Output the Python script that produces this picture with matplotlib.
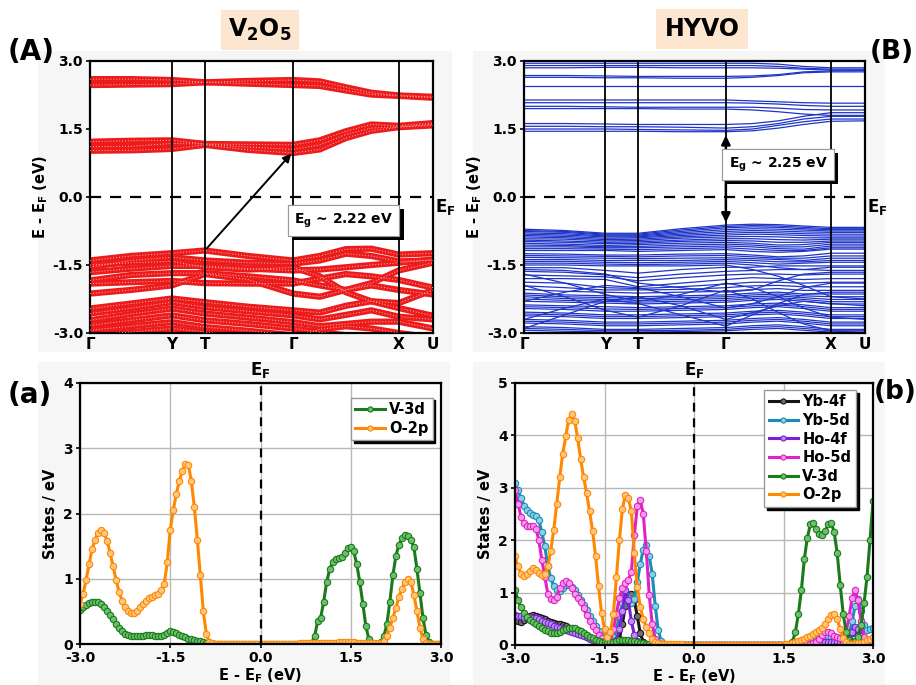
import numpy as np
import matplotlib
matplotlib.use('Agg')
import matplotlib.pyplot as plt
from matplotlib.patches import Rectangle
import matplotlib.patheffects as pe

plt.rcParams['font.family'] = ['DejaVu Sans']
plt.rcParams['font.weight'] = 'bold'
plt.rcParams['axes.labelweight'] = 'bold'
plt.rcParams['mathtext.default'] = 'bf'

# ---------------- band structure data ----------------
kpath = [0.0, 0.12, 0.239, 0.335, 0.46, 0.592, 0.67, 0.746, 0.82, 0.90, 1.0]
ktick_pos = [0.0, 0.239, 0.335, 0.592, 0.90, 1.0]
ktick_lab = ['Γ', 'Y', 'T', 'Γ', 'X', 'U']

v2o5_bands = [
    [2.60, 2.60, 2.58, 2.53, 2.56, 2.58, 2.55, 2.42, 2.30, 2.24, 2.21],
    [2.47, 2.48, 2.49, 2.53, 2.50, 2.47, 2.45, 2.35, 2.26, 2.23, 2.19],
    [1.22, 1.24, 1.25, 1.17, 1.16, 1.15, 1.25, 1.45, 1.60, 1.57, 1.63],
    [1.11, 1.12, 1.18, 1.17, 1.10, 1.05, 1.15, 1.38, 1.52, 1.55, 1.60],
    [1.02, 1.03, 1.06, 1.15, 1.04, 0.97, 1.05, 1.30, 1.46, 1.54, 1.58],
    [-1.40, -1.30, -1.24, -1.18, -1.30, -1.40, -1.30, -1.15, -1.14, -1.27, -1.24],
    [-1.55, -1.40, -1.33, -1.40, -1.45, -1.47, -1.40, -1.25, -1.30, -1.42, -1.40],
    [-1.66, -1.58, -1.52, -1.52, -1.58, -1.62, -1.60, -1.55, -1.50, -1.45, -1.38],
    [-1.84, -1.72, -1.68, -1.68, -1.75, -1.84, -1.95, -2.05, -1.90, -1.62, -1.45],
    [-1.91, -1.88, -1.85, -1.90, -1.91, -1.91, -1.80, -1.70, -1.75, -1.83, -2.00],
    [-2.13, -2.05, -1.95, -1.70, -1.82, -2.13, -2.20, -2.05, -1.95, -2.05, -2.15],
    [-1.50, -1.45, -1.42, -1.55, -1.60, -1.55, -1.75, -2.10, -2.30, -2.34, -2.05],
    [-2.46, -2.35, -2.24, -2.32, -2.42, -2.50, -2.55, -2.40, -2.30, -2.45, -2.62],
    [-2.57, -2.45, -2.32, -2.43, -2.52, -2.61, -2.70, -2.60, -2.50, -2.64, -2.70],
    [-2.72, -2.58, -2.46, -2.57, -2.66, -2.76, -2.85, -2.80, -2.75, -2.75, -2.90],
    [-2.83, -2.72, -2.61, -2.72, -2.80, -2.90, -2.98, -3.05, -3.10, -3.10, -3.10],
    [-2.94, -2.85, -2.76, -2.87, -2.95, -3.05, -3.10, -3.10, -3.10, -3.10, -3.10],
    [-3.05, -2.98, -2.90, -2.98, -3.10, -3.10, -2.92, -2.85, -2.90, -3.00, -3.10],
]

hyvo_bands = [
    [2.95, 2.95, 2.95, 2.95, 2.95, 2.95, 2.95, 2.93, 2.88, 2.85, 2.85],
    [2.90, 2.90, 2.90, 2.90, 2.90, 2.90, 2.90, 2.88, 2.84, 2.82, 2.82],
    [2.85, 2.85, 2.86, 2.86, 2.85, 2.85, 2.85, 2.84, 2.82, 2.80, 2.80],
    [2.68, 2.68, 2.67, 2.66, 2.66, 2.66, 2.67, 2.70, 2.76, 2.78, 2.79],
    [2.64, 2.64, 2.63, 2.63, 2.62, 2.62, 2.64, 2.68, 2.74, 2.76, 2.76],
    [2.45, 2.45, 2.45, 2.45, 2.45, 2.45, 2.45, 2.45, 2.45, 2.45, 2.45],
    [2.14, 2.14, 2.14, 2.14, 2.14, 2.14, 2.12, 2.10, 2.08, 2.07, 2.07],
    [2.08, 2.08, 2.08, 2.08, 2.08, 2.08, 2.07, 2.05, 2.02, 2.00, 2.00],
    [2.00, 2.00, 1.99, 1.98, 1.98, 1.98, 1.98, 1.96, 1.93, 1.92, 1.92],
    [1.95, 1.95, 1.95, 1.95, 1.94, 1.94, 1.92, 1.88, 1.83, 1.80, 1.80],
    [1.62, 1.62, 1.61, 1.60, 1.60, 1.60, 1.62, 1.68, 1.78, 1.86, 1.86],
    [1.56, 1.56, 1.55, 1.55, 1.54, 1.52, 1.55, 1.62, 1.72, 1.78, 1.78],
    [1.50, 1.50, 1.50, 1.49, 1.48, 1.47, 1.50, 1.58, 1.66, 1.72, 1.72],
    [1.45, 1.45, 1.45, 1.45, 1.44, 1.44, 1.46, 1.52, 1.60, 1.67, 1.68],
    [-0.71, -0.74, -0.80, -0.80, -0.70, -0.62, -0.60, -0.61, -0.64, -0.67, -0.67],
    [-0.74, -0.76, -0.82, -0.82, -0.73, -0.65, -0.63, -0.64, -0.67, -0.70, -0.70],
    [-0.76, -0.78, -0.84, -0.84, -0.76, -0.68, -0.66, -0.67, -0.70, -0.72, -0.72],
    [-0.79, -0.81, -0.86, -0.86, -0.79, -0.72, -0.70, -0.71, -0.73, -0.75, -0.75],
    [-0.82, -0.84, -0.88, -0.88, -0.82, -0.76, -0.74, -0.75, -0.77, -0.78, -0.78],
    [-0.85, -0.87, -0.91, -0.90, -0.85, -0.80, -0.78, -0.79, -0.81, -0.82, -0.82],
    [-0.88, -0.90, -0.94, -0.93, -0.88, -0.84, -0.82, -0.83, -0.85, -0.86, -0.86],
    [-0.92, -0.93, -0.97, -0.96, -0.91, -0.88, -0.87, -0.88, -0.90, -0.90, -0.90],
    [-0.95, -0.97, -1.00, -0.99, -0.95, -0.92, -0.92, -0.94, -0.95, -0.93, -0.93],
    [-0.98, -1.00, -1.03, -1.02, -0.98, -0.96, -0.97, -1.00, -1.00, -0.97, -0.97],
    [-1.02, -1.04, -1.07, -1.05, -1.02, -1.00, -1.02, -1.06, -1.05, -1.00, -1.00],
    [-1.06, -1.07, -1.10, -1.09, -1.06, -1.04, -1.06, -1.10, -1.10, -1.04, -1.04],
    [-1.10, -1.10, -1.12, -1.12, -1.10, -1.08, -1.10, -1.14, -1.15, -1.08, -1.08],
    [-1.14, -1.14, -1.15, -1.16, -1.14, -1.12, -1.15, -1.18, -1.18, -1.12, -1.12],
    [-1.18, -1.18, -1.18, -1.20, -1.18, -1.16, -1.20, -1.22, -1.20, -1.15, -1.15],
    [-1.25, -1.26, -1.28, -1.28, -1.26, -1.25, -1.28, -1.32, -1.30, -1.24, -1.24],
    [-1.29, -1.30, -1.31, -1.32, -1.30, -1.29, -1.32, -1.35, -1.35, -1.30, -1.30],
    [-1.33, -1.34, -1.35, -1.36, -1.35, -1.34, -1.36, -1.38, -1.40, -1.35, -1.35],
    [-1.38, -1.38, -1.40, -1.40, -1.40, -1.38, -1.40, -1.43, -1.43, -1.40, -1.40],
    [-1.42, -1.42, -1.44, -1.45, -1.44, -1.42, -1.45, -1.48, -1.46, -1.44, -1.44],
    [-1.46, -1.46, -1.48, -1.49, -1.48, -1.46, -1.50, -1.56, -1.60, -1.55, -1.55],
    [-1.50, -1.50, -1.52, -1.52, -1.52, -1.50, -1.60, -1.75, -1.95, -2.20, -2.25],
    [-1.56, -1.56, -1.62, -1.68, -1.60, -1.55, -1.55, -1.52, -1.52, -1.52, -1.52],
    [-1.64, -1.66, -1.72, -1.78, -1.70, -1.64, -1.62, -1.60, -1.60, -1.62, -1.62],
    [-1.72, -1.74, -1.76, -1.85, -1.78, -1.72, -1.70, -1.70, -1.72, -1.70, -1.70],
    [-1.80, -1.80, -1.82, -1.98, -1.90, -1.82, -1.78, -1.80, -1.82, -1.80, -1.80],
    [-1.88, -1.90, -2.00, -2.02, -1.98, -1.92, -1.88, -1.88, -1.90, -1.88, -1.88],
    [-1.96, -2.00, -2.05, -2.05, -2.04, -2.00, -1.96, -1.95, -1.98, -1.98, -1.98],
    [-2.04, -2.08, -2.10, -2.12, -2.10, -2.08, -2.04, -2.02, -2.06, -2.06, -2.06],
    [-2.12, -2.16, -2.18, -2.20, -2.18, -2.16, -2.12, -2.10, -2.14, -2.14, -2.14],
    [-2.16, -2.20, -2.22, -2.24, -2.22, -2.20, -2.16, -2.14, -2.18, -2.20, -2.20],
    [-2.20, -2.24, -2.26, -2.28, -2.26, -2.24, -2.20, -2.18, -2.22, -2.26, -2.26],
    [-2.25, -2.28, -2.30, -2.32, -2.30, -2.28, -2.24, -2.22, -2.26, -2.31, -2.31],
    [-2.30, -2.32, -2.34, -2.36, -2.34, -2.32, -2.28, -2.26, -2.30, -2.36, -2.36],
    [-2.38, -2.40, -2.42, -2.44, -2.42, -2.40, -2.36, -2.34, -2.38, -2.44, -2.44],
    [-2.42, -2.44, -2.47, -2.48, -2.46, -2.44, -2.40, -2.38, -2.42, -2.48, -2.48],
    [-2.46, -2.48, -2.52, -2.52, -2.50, -2.48, -2.44, -2.42, -2.46, -2.52, -2.52],
    [-2.54, -2.56, -2.60, -2.60, -2.58, -2.56, -2.52, -2.50, -2.54, -2.60, -2.60],
    [-2.58, -2.60, -2.64, -2.64, -2.62, -2.60, -2.56, -2.54, -2.58, -2.64, -2.64],
    [-2.62, -2.64, -2.68, -2.68, -2.66, -2.64, -2.60, -2.58, -2.62, -2.68, -2.68],
    [-2.70, -2.72, -2.76, -2.76, -2.74, -2.72, -2.68, -2.66, -2.70, -2.76, -2.76],
    [-2.74, -2.76, -2.80, -2.80, -2.78, -2.76, -2.72, -2.70, -2.74, -2.80, -2.80],
    [-2.78, -2.80, -2.84, -2.84, -2.82, -2.80, -2.76, -2.74, -2.78, -2.84, -2.84],
    [-2.86, -2.88, -2.92, -2.92, -2.90, -2.88, -2.84, -2.82, -2.86, -2.92, -2.92],
    [-2.90, -2.92, -2.95, -2.95, -2.94, -2.92, -2.88, -2.86, -2.90, -2.95, -2.95],
    [-2.94, -2.96, -2.98, -2.98, -2.97, -2.95, -2.92, -2.90, -2.94, -2.98, -2.98],
    [-2.90, -2.60, -2.30, -2.20, -2.40, -2.70, -2.55, -2.40, -2.30, -2.35, -2.40],
    [-1.95, -2.20, -2.50, -2.65, -2.40, -2.05, -2.25, -2.55, -2.80, -2.95, -3.00],
    [-1.60, -1.62, -1.70, -1.90, -2.00, -2.10, -2.05, -1.85, -1.70, -1.66, -1.66],
    [-2.70, -2.45, -2.25, -2.35, -2.60, -2.85, -2.60, -2.35, -2.15, -2.10, -2.10],
    [-1.70, -1.90, -2.15, -2.30, -2.15, -1.90, -2.00, -2.20, -2.45, -2.65, -2.70],
    [-2.30, -2.10, -1.95, -2.00, -2.20, -2.45, -2.35, -2.20, -2.00, -1.90, -1.90],
]

# ---------------- PDOS data (E - E_F grid, 0.05 eV step) ----------------
dos_e = np.linspace(-3.0, 3.0, 121)
Z20 = [0.0] * 20

v2o5_o2p = ([0.62, 0.76, 0.98, 1.22, 1.45, 1.60, 1.70, 1.74, 1.70, 1.58, 1.40, 1.19, 0.98, 0.80, 0.66, 0.56, 0.50, 0.47, 0.48, 0.51]
            + [0.56, 0.61, 0.66, 0.70, 0.72, 0.75, 0.77, 0.82, 0.92, 1.25, 1.75, 2.05, 2.30, 2.50, 2.65, 2.76, 2.75, 2.50, 2.10, 1.60]
            + [1.05, 0.50, 0.15, 0.03, 0.01] + [0.0] * 15
            + [0.0] * 13 + [0.01] * 7
            + [0.01, 0.01, 0.01, 0.02, 0.02, 0.02, 0.03, 0.03, 0.03, 0.03, 0.03, 0.03, 0.02, 0.02, 0.02, 0.01, 0.01, 0.01, 0.01, 0.01]
            + [0.02, 0.05, 0.12, 0.25, 0.40, 0.55, 0.72, 0.85, 0.95, 1.00, 0.95, 0.75, 0.50, 0.25, 0.08, 0.02, 0.0, 0.0, 0.0, 0.0]
            + [0.0])
v2o5_v3d = ([0.52, 0.56, 0.60, 0.63, 0.65, 0.65, 0.64, 0.61, 0.56, 0.50, 0.44, 0.38, 0.31, 0.25, 0.20, 0.16, 0.14, 0.13, 0.13, 0.13]
            + [0.13, 0.13, 0.14, 0.14, 0.14, 0.13, 0.12, 0.12, 0.14, 0.17, 0.20, 0.19, 0.17, 0.14, 0.12, 0.10, 0.08, 0.07, 0.06, 0.05]
            + [0.04, 0.03, 0.02, 0.01] + [0.0] * 16
            + [0.0] * 17 + [0.02, 0.12, 0.35]
            + [0.40, 0.65, 0.95, 1.15, 1.25, 1.30, 1.32, 1.34, 1.40, 1.47, 1.49, 1.42, 1.22, 0.95, 0.62, 0.28, 0.08, 0.02, 0.0, 0.0]
            + [0.03, 0.12, 0.30, 0.65, 1.05, 1.35, 1.52, 1.62, 1.67, 1.66, 1.60, 1.48, 1.15, 0.78, 0.40, 0.14, 0.03, 0.0, 0.0, 0.0]
            + [0.0])

yb4f = ([0.48, 0.45, 0.44, 0.48, 0.52, 0.55, 0.57, 0.56, 0.54, 0.52, 0.49, 0.46, 0.44, 0.42, 0.41, 0.40, 0.38, 0.36, 0.33, 0.31]
        + [0.28, 0.25, 0.22, 0.19, 0.16, 0.13, 0.10, 0.08, 0.06, 0.04, 0.03, 0.02, 0.02, 0.04, 0.06, 0.12, 0.40, 0.75, 0.95, 0.98]
        + [0.85, 0.55, 0.22, 0.06, 0.02] + [0.0] * 15
        + Z20 + Z20
        + [0.0, 0.0, 0.01, 0.02, 0.03, 0.03, 0.02, 0.02, 0.02, 0.02, 0.03, 0.05, 0.12, 0.22, 0.30, 0.28, 0.18, 0.08, 0.04, 0.03]
        + [0.03])
yb5d = ([3.09, 2.95, 2.80, 2.66, 2.58, 2.52, 2.49, 2.46, 2.38, 2.15, 1.88, 1.50, 1.28, 1.12, 1.05, 1.03, 1.08, 1.15, 1.14, 1.11]
        + [1.05, 0.95, 0.86, 0.76, 0.66, 0.56, 0.46, 0.36, 0.27, 0.18, 0.10, 0.05, 0.06, 0.15, 0.30, 0.55, 0.80, 0.98, 0.90, 0.80]
        + [0.88, 1.20, 1.55, 1.82, 1.90, 1.70, 1.35, 0.75, 0.28, 0.08, 0.02] + [0.0] * 9
        + Z20
        + [0.0] * 16 + [0.01, 0.02, 0.04, 0.06]
        + [0.08, 0.10, 0.13, 0.16, 0.18, 0.17, 0.15, 0.13, 0.10, 0.08, 0.06, 0.08, 0.20, 0.45, 0.75, 0.88, 0.65, 0.38, 0.28, 0.30]
        + [0.32])
ho4f = ([0.58, 0.56, 0.55, 0.54, 0.54, 0.53, 0.52, 0.51, 0.49, 0.46, 0.44, 0.42, 0.40, 0.37, 0.35, 0.33, 0.31, 0.29, 0.27, 0.25]
        + [0.23, 0.21, 0.19, 0.17, 0.15, 0.12, 0.10, 0.08, 0.06, 0.04, 0.03, 0.02, 0.02, 0.04, 0.10, 0.30, 0.65, 1.05, 0.85, 0.45]
        + [0.20, 0.08, 0.02] + [0.0] * 17
        + Z20
        + [0.0] * 18 + [0.01, 0.01]
        + [0.02, 0.03, 0.04, 0.05, 0.06, 0.06, 0.06, 0.05, 0.05, 0.04, 0.04, 0.06, 0.12, 0.25, 0.34, 0.30, 0.18, 0.08, 0.05, 0.04]
        + [0.04])
ho5d = ([2.96, 2.70, 2.45, 2.32, 2.28, 2.27, 2.27, 2.22, 2.00, 1.62, 1.30, 0.98, 0.88, 0.86, 0.92, 1.08, 1.18, 1.22, 1.18, 1.08]
        + [0.98, 0.90, 0.82, 0.70, 0.58, 0.46, 0.36, 0.28, 0.20, 0.13, 0.08, 0.05, 0.08, 0.30, 0.60, 0.90, 1.08, 1.18, 1.24, 1.40]
        + [2.10, 2.65, 2.77, 2.50, 1.80, 0.95, 0.40, 0.12, 0.04, 0.01] + [0.0] * 10
        + Z20
        + [0.0] * 18 + [0.01, 0.02]
        + [0.03, 0.06, 0.12, 0.20, 0.25, 0.25, 0.22, 0.18, 0.15, 0.13, 0.15, 0.25, 0.55, 0.90, 1.05, 0.85, 0.45, 0.15, 0.06, 0.04]
        + [0.03])
hyvo_v3d = ([1.05, 0.85, 0.72, 0.62, 0.54, 0.48, 0.44, 0.40, 0.36, 0.32, 0.29, 0.26, 0.23, 0.22, 0.23, 0.25, 0.28, 0.31, 0.33, 0.33]
            + [0.32, 0.29, 0.26, 0.22, 0.19, 0.16, 0.13, 0.10, 0.08, 0.06, 0.05, 0.04, 0.05, 0.06, 0.08, 0.09, 0.10, 0.10, 0.09, 0.08]
            + [0.07, 0.06, 0.04, 0.03, 0.02, 0.01] + [0.0] * 14
            + Z20
            + [0.0] * 12 + [0.02, 0.06, 0.25, 0.60, 1.05, 1.65, 2.05, 2.30]
            + [2.33, 2.22, 2.12, 2.10, 2.18, 2.30, 2.33, 2.15, 1.75, 1.15, 0.60, 0.25, 0.10, 0.06, 0.07, 0.15, 0.38, 0.80, 1.30, 2.00]
            + [2.75])
hyvo_o2p = ([1.69, 1.50, 1.36, 1.31, 1.35, 1.42, 1.46, 1.44, 1.38, 1.34, 1.36, 1.50, 1.80, 2.20, 2.70, 3.20, 3.65, 3.98, 4.30, 4.40]
            + [4.28, 3.95, 3.55, 3.20, 2.90, 2.55, 2.18, 1.70, 1.12, 0.62, 0.30, 0.15, 0.25, 0.60, 1.30, 2.00, 2.60, 2.87, 2.80, 2.55]
            + [1.75, 1.10, 0.72, 0.50, 0.35, 0.22, 0.12, 0.06, 0.03, 0.02, 0.02, 0.02, 0.02, 0.02, 0.02, 0.02, 0.01, 0.0, 0.0, 0.0]
            + Z20
            + [0.0] * 11 + [0.02, 0.02, 0.03, 0.05, 0.07, 0.09, 0.12, 0.15, 0.18]
            + [0.21, 0.24, 0.28, 0.33, 0.40, 0.50, 0.58, 0.60, 0.50, 0.30, 0.14, 0.05, 0.02, 0.02, 0.02, 0.03, 0.04, 0.06, 0.09, 0.12]
            + [0.15])

v2o5_series = [('V-3d', v2o5_v3d, '#1b7a1b', '#6cc06c'),
               ('O-2p', v2o5_o2p, '#ff8800', '#ffc680')]
hyvo_series = [('Yb-4f', yb4f, '#151515', '#707070'),
               ('Yb-5d', yb5d, '#1c8db3', '#88d0e6'),
               ('Ho-4f', ho4f, '#7a1fd6', '#b890ee'),
               ('Ho-5d', ho5d, '#e020c8', '#f59ae8'),
               ('V-3d', hyvo_v3d, '#1b7a1b', '#6cc06c'),
               ('O-2p', hyvo_o2p, '#ff8800', '#ffc680')]

W, H = 916, 685
fig = plt.figure(figsize=(W / 100, H / 100), dpi=100)


def box(x0, y0, x1, y1):
    # pixel box (top-left origin) -> figure fraction rect
    return [x0 / W, 1 - y1 / H, (x1 - x0) / W, (y1 - y0) / H]


# light panel backgrounds
for (x0, y0, x1, y1) in [(38, 51, 452, 352), (473, 51, 885, 352), (38, 362, 450, 685), (473, 362, 885, 685)]:
    r = box(x0, y0, x1, y1)
    fig.add_artist(Rectangle((r[0], r[1]), r[2], r[3], transform=fig.transFigure,
                             facecolor='#f6f6f6', edgecolor='none', zorder=-5))

ax_a = fig.add_axes(box(90, 61, 433, 333))
ax_b = fig.add_axes(box(524, 61, 865, 333))
ax_c = fig.add_axes(box(80, 383, 441, 644))
ax_d = fig.add_axes(box(515, 383, 873, 645))


def band_axes(ax):
    ax.set_xlim(0, 1)
    ax.set_ylim(-3, 3)
    ax.set_yticks([3.0, 1.5, 0.0, -1.5, -3.0])
    ax.set_yticklabels(['3.0', '1.5', '0.0', '-1.5', '-3.0'], fontsize=10, fontweight='bold')
    ax.set_xticks(ktick_pos)
    ax.set_xticklabels(ktick_lab, fontsize=11, fontweight='bold')
    ax.tick_params(axis='x', length=0, pad=3)
    ax.tick_params(axis='y', length=3, width=1.2, pad=2)
    for k in ktick_pos[1:-1]:
        ax.axvline(k, color='k', lw=1.3, zorder=5)
    ax.axhline(0, color='k', lw=1.6, ls=(0, (5, 4)), zorder=5)
    ax.text(1.005, 0.0, r'$E_F$', transform=ax.get_yaxis_transform(), fontsize=12,
            va='top', ha='left')
    ax.set_ylabel(r'E - E$_F$ (eV)', fontsize=10.5, labelpad=2)
    for s in ax.spines.values():
        s.set_linewidth(1.6)


def shadow_box(ax, x, y, s):
    t = ax.text(x, y, s, fontsize=10, ha='center', va='center', zorder=8,
                bbox=dict(boxstyle='square,pad=0.45', fc='white', ec='#999999', lw=0.8))
    t.get_bbox_patch().set_path_effects([
        pe.withSimplePatchShadow(offset=(3, -3), shadow_rgbFace='k', alpha=1.0), pe.Normal()])


# (A) V2O5 bands
band_axes(ax_a)
for b in v2o5_bands:
    ax_a.plot(kpath, b, color='#ec1c1c', lw=4.5, solid_capstyle='round', zorder=2)
    ax_a.plot(kpath, b, color='#ffb4b4', lw=0.7, ls=(0, (1, 2)), zorder=3)
ax_a.annotate('', xy=(0.592, 1.0), xytext=(0.335, -1.18),
              arrowprops=dict(arrowstyle='-|>', color='k', lw=1.4, mutation_scale=12), zorder=7)
shadow_box(ax_a, 0.74, -0.52, r'$E_g$ ~ 2.22 eV')

# (B) HYVO bands
band_axes(ax_b)
for b in hyvo_bands:
    ax_b.plot(kpath, b, color='#1f35c8', lw=0.9, zorder=2)
ax_b.annotate('', xy=(0.592, 1.42), xytext=(0.592, -0.62),
              arrowprops=dict(arrowstyle='<|-|>', color='k', lw=1.8, mutation_scale=13), zorder=7)
shadow_box(ax_b, 0.745, 0.72, r'$E_g$ ~ 2.25 eV')


def dos_axes(ax, series, ymax, legend_anchor):
    for lab, y, ec, fc in series:
        ax.plot(dos_e, y, '-o', color=ec, lw=2.2, ms=4.6, mfc=fc, mec=ec, mew=0.8, label=lab)
    ax.set_xlim(-3, 3)
    ax.set_ylim(0, ymax)
    ax.set_xticks([-3.0, -1.5, 0.0, 1.5, 3.0])
    ax.set_xticklabels(['-3.0', '-1.5', '0.0', '1.5', '3.0'], fontsize=10, fontweight='bold')
    ax.set_yticks(range(0, ymax + 1))
    ax.set_yticklabels([str(v) for v in range(0, ymax + 1)], fontsize=10, fontweight='bold')
    ax.grid(True, color='#b8b8b8', lw=1.0)
    ax.set_axisbelow(True)
    ax.axvline(0, color='k', lw=1.6, ls=(0, (4, 3)), zorder=4)
    ax.text(0, ymax * 1.01, r'$E_F$', ha='center', va='bottom', fontsize=12)
    ax.set_xlabel(r'E - E$_F$ (eV)', fontsize=10.5, labelpad=1)
    ax.set_ylabel('States / eV', fontsize=10.5, labelpad=4)
    ax.tick_params(length=3, width=1.2, pad=2)
    for s in ax.spines.values():
        s.set_linewidth(1.6)
    ax.legend(loc='upper right', bbox_to_anchor=legend_anchor, fancybox=False,
              shadow={'color': 'k', 'alpha': 1.0}, edgecolor='#999999', framealpha=1,
              fontsize=10.5, handlelength=2.0, handletextpad=0.3, borderpad=0.3,
              labelspacing=0.25, borderaxespad=0.2, markerscale=0.8)


dos_axes(ax_c, v2o5_series, 4, (0.985, 0.955))
dos_axes(ax_d, hyvo_series, 5, (0.96, 0.985))

# headers and panel tags
fig.text(260 / W, 1 - 30 / H, r'$V_2O_5$', ha='center', va='center', fontsize=17,
         bbox=dict(boxstyle='square,pad=0.3', fc='#fce6cf', ec='none'))
fig.text(702 / W, 1 - 29 / H, 'HYVO', ha='center', va='center', fontsize=17, fontweight='bold',
         bbox=dict(boxstyle='square,pad=0.35', fc='#fce6cf', ec='none'))
fig.text(8 / W, 1 - 52 / H, '(A)', fontsize=20, fontweight='bold', va='center')
fig.text(870 / W, 1 - 52 / H, '(B)', fontsize=19, fontweight='bold', va='center')
fig.text(8 / W, 1 - 395 / H, '(a)', fontsize=20, fontweight='bold', va='center')
fig.text(874 / W, 1 - 392 / H, '(b)', fontsize=19, fontweight='bold', va='center')

fig.savefig('out.png', dpi=100)
